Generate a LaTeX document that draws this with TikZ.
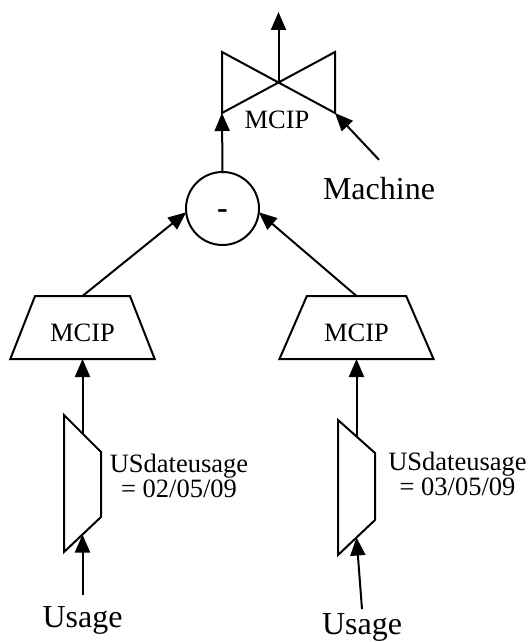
\documentclass[tikz,border=0pt]{standalone}
\usepackage{fontspec}
\setmainfont{Liberation Serif}
\usetikzlibrary{arrows.meta,shapes.geometric}
\newcommand\mystrut{\vrule height 29pt depth 0pt width 0pt}
\newcommand\labelsize{\fontsize{26.5}{25}\selectfont}
\newcommand\namesize{\fontsize{32}{36}\selectfont}

\begin{document}
\begin{tikzpicture}[x=1pt,y=-1pt,line width=2pt,
  >={Triangle[length=18pt,width=15pt]}]
  \useasboundingbox (0,0) rectangle (528,642);
  \begin{scope}[
    every node/.style={
      draw,
      trapezium,
      trapezium stretches=true,
      inner sep=0,
      outer sep=0,
      minimum height=63pt,
      font=\labelsize,
    },
    ]
    \node[minimum width=145pt,trapezium angle=60] (mcipL) at (82.5,327.5) {\mystrut MCIP};
    \node[minimum width=155pt,trapezium angle=58.6] (mcipR) at (356.5,327.5) {\mystrut MCIP};
  \end{scope}
  % selectors
  \draw (64,415) -- (101,452) -- (101,517) -- (64,552) -- cycle;
  \draw (338,420) -- (375,453) -- (375,520) -- (338,555) -- cycle;
  \coordinate (muxLtop) at (82.5,433.5);
  \coordinate (muxLbot) at (82.5,534.5);
  \coordinate (muxRtop) at (356.5,436.5);
  \coordinate (muxRbot) at (356.5,537.5);
  \node[draw,circle,minimum size=73pt,inner sep=0,outer sep=0,font=\namesize\bfseries] (minus) at (222.5,208.5) {\raisebox{-10pt}[0pt][0pt]{-}};
  % valve
  \coordinate (valve) at (278.5,82.5);
  \coordinate (valveL) at (222,113);
  \coordinate (valveR) at (335,113);
  \coordinate (outlet) at (278.5,12);
  \draw (222,52) -- (valveR) -- (335,52) -- (valveL) -- cycle;
  \node[font=\labelsize,anchor=base,inner sep=0] (mcipV) at (277,128) {MCIP};
  % texts
  \node[font=\namesize,anchor=base,inner sep=16pt] (machine) at (379,199) {Machine};
  \node[font=\namesize,anchor=base,inner sep=10pt] (usageL) at (82.5,627) {Usage};
  \node[font=\namesize,anchor=base,inner sep=3pt] (usageR) at (362,634) {Usage};
  \node[font=\labelsize,align=center,anchor=base] (dateL) at (179,497) {USdateusage\\= 02/05/09};
  \node[font=\labelsize,align=center,anchor=base] (dateR) at (457.5,495) {USdateusage\\= 03/05/09};
  % connectors
  \draw[->] (minus.north) -- (valveL);
  \draw[->] (machine.north) -- (valveR);
  \draw[->] (valve) -- (outlet);
  \draw[->] (mcipL.top side) -- (minus.186);
  \draw[->] (mcipR.top side) -- (minus.354);
  \draw[->] (muxLtop) -- (mcipL.bottom side);
  \draw[->] (muxRtop) -- (mcipR.bottom side);
  \draw[->] (usageL.north) -- (muxLbot);
  \draw[->] (usageR.north) -- (muxRbot);
\end{tikzpicture}
\end{document}
